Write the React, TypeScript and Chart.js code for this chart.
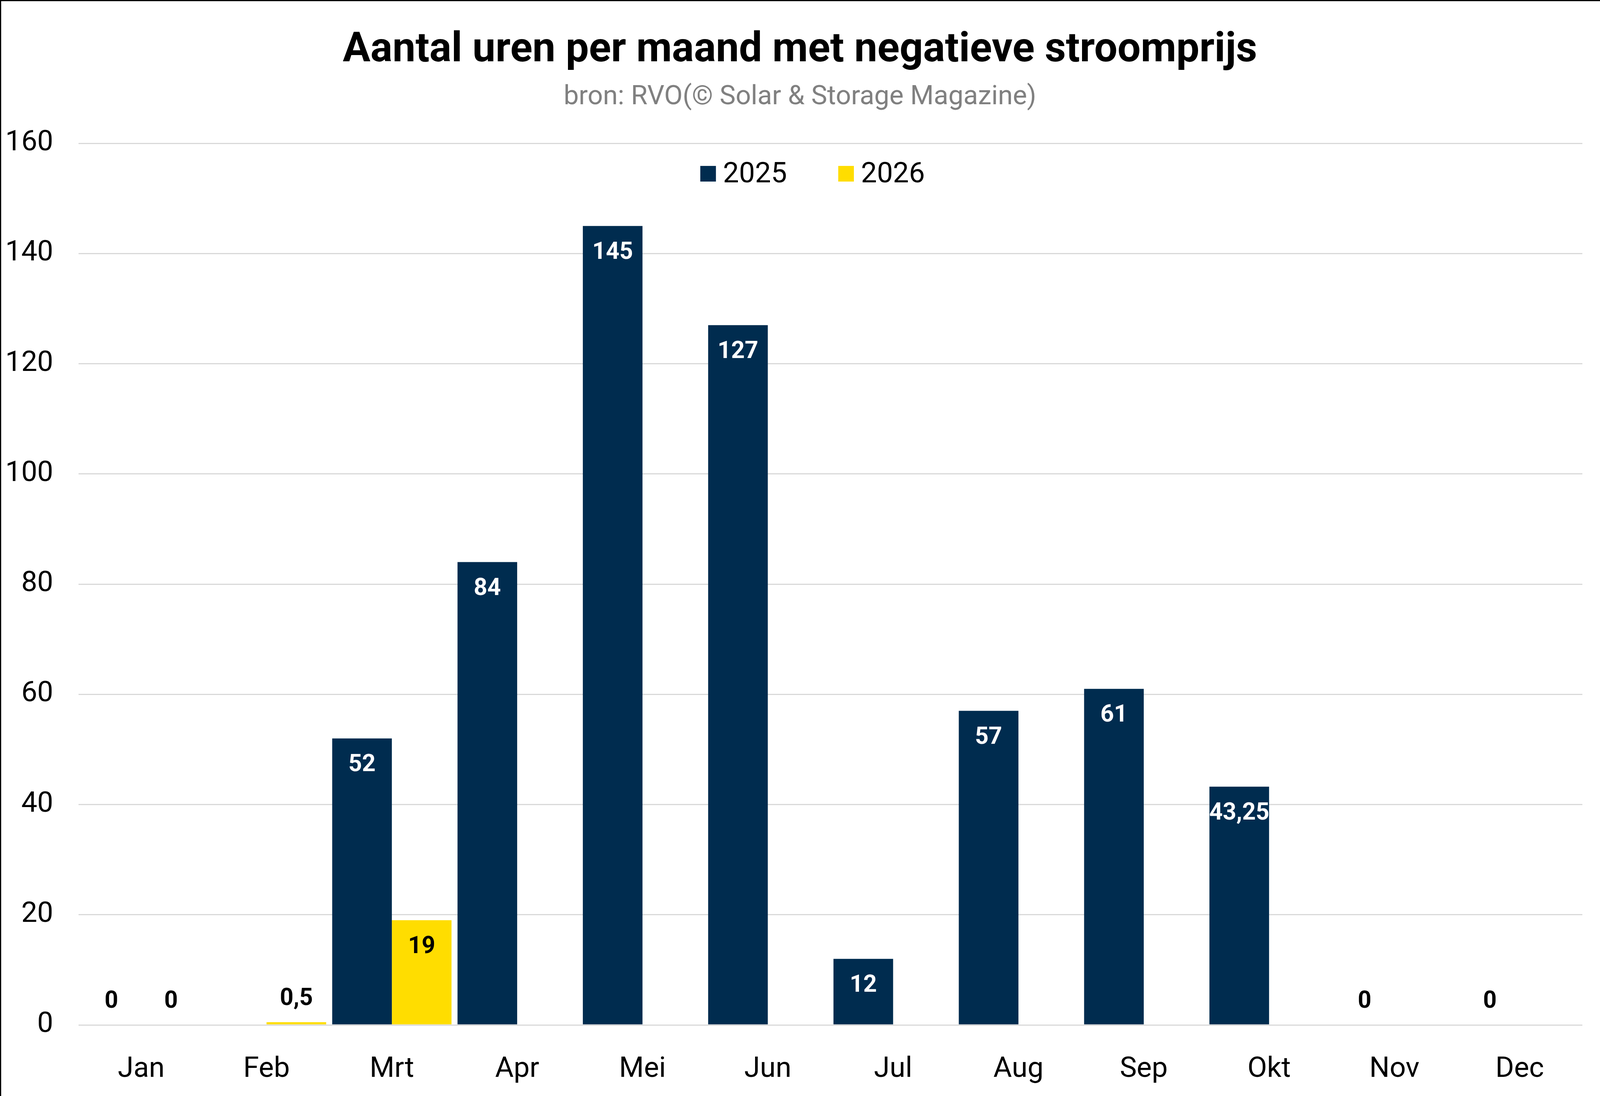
import React, { useEffect, useRef } from "react";
import { Chart, registerables } from "chart.js";

Chart.register(...registerables);

const months = ["Jan", "Feb", "Mrt", "Apr", "Mei", "Jun", "Jul", "Aug", "Sep", "Okt", "Nov", "Dec"];
const values2025: (number | null)[] = [0, null, 52, 84, 145, 127, 12, 57, 61, 43.25, 0, 0];
const values2026: (number | null)[] = [0, 0.5, 19, null, null, null, null, null, null, null, null, null];
const seriesNames = ["2025", "2026"];
const seriesColors = ["#002c4f", "#ffdd00"];
const labelColors = ["#ffffff", "#000000"];
const titleText = "Aantal uren per maand met negatieve stroomprijs";
const subtitleText = "bron: RVO(© Solar & Storage Magazine)";
const yMin = 0;
const yMax = 160;
const yStep = 20;

// reference design size
const RW = 4990;
const RH = 2807;
const FONT = "Roboto";

const fmt = (v: number) => String(v).replace(".", ",");

export default function App() {
  const ref = useRef<HTMLCanvasElement | null>(null);
  useEffect(() => {
    document.body.style.margin = "0";
    if (!ref.current) return;
    const vw = window.innerWidth;
    const vh = window.innerHeight;
    const sx = vw / RW;
    const sy = vh / RH;
    const f = Math.min(1, (sx + sy) / 2);
    const ft = Math.min(1, sx * 1.01); // title / subtitle font scale
    const fl = Math.min(1, sx * 1.085); // data label font scale (must fit in bars)

    const decorPlugin = {
      id: "decor",
      beforeDraw(chart: any) {
        const ctx = chart.ctx;
        ctx.save();
        ctx.fillStyle = "#ffffff";
        ctx.fillRect(0, 0, chart.width, chart.height);
        ctx.restore();
      },
      afterDraw(chart: any) {
        const ctx = chart.ctx;
        ctx.save();
        // frame lines
        ctx.fillStyle = "#000000";
        ctx.fillRect(0, 0, chart.width, 3);
        ctx.fillRect(0, 0, 3, chart.height);
        // title & subtitle
        ctx.textAlign = "center";
        ctx.textBaseline = "alphabetic";
        ctx.fillStyle = "#000000";
        ctx.font = `700 ${127 * ft}px ${FONT}`;
        ctx.fillText(titleText, 2495 * sx, 157 * sy);
        ctx.fillStyle = "#808080";
        ctx.font = `400 ${83 * ft}px ${FONT}`;
        ctx.fillText(subtitleText, 2495 * sx, 267 * sy);
        // legend
        const box = 44 * f;
        let x = 2184 * sx;
        ctx.textAlign = "left";
        ctx.font = `400 ${80 * f}px ${FONT}`;
        chart.data.datasets.forEach((ds: any) => {
          ctx.fillStyle = ds.backgroundColor;
          ctx.fillRect(x, 465 * sy - box, box, box);
          x += box + 22 * sx;
          ctx.fillStyle = "#000000";
          ctx.fillText(ds.label, x, 467 * sy);
          x += ctx.measureText(ds.label).width + 160 * sx;
        });
        ctx.restore();
      },
      afterDatasetsDraw(chart: any) {
        const ctx = chart.ctx;
        ctx.save();
        ctx.font = `700 ${68 * fl}px ${FONT}`;
        ctx.textAlign = "center";
        ctx.textBaseline = "middle";
        chart.data.datasets.forEach((ds: any, di: number) => {
          const meta = chart.getDatasetMeta(di);
          meta.data.forEach((el: any, i: number) => {
            const v = ds.data[i];
            if (v === null || v === undefined) return;
            if (v < 5) {
              ctx.fillStyle = "#000000";
              ctx.fillText(fmt(v), el.x, el.y - 59 * sy);
            } else {
              ctx.fillStyle = labelColors[di];
              ctx.fillText(fmt(v), el.x, el.y + 69 * sy);
            }
          });
        });
        ctx.restore();
      },
    };

    const chart = new Chart(ref.current, {
      type: "bar",
      data: {
        labels: months,
        datasets: [
          {
            label: seriesNames[0],
            data: values2025,
            backgroundColor: seriesColors[0],
            categoryPercentage: 0.952,
            barPercentage: 1.0,
          },
          {
            label: seriesNames[1],
            data: values2026,
            backgroundColor: seriesColors[1],
            categoryPercentage: 0.952,
            barPercentage: 1.0,
          },
        ],
      },
      options: {
        animation: false,
        responsive: true,
        maintainAspectRatio: false,
        layout: { padding: { left: 0, right: 55 * sx, top: 367 * sy, bottom: 0 } },
        plugins: {
          legend: { display: false },
          tooltip: { enabled: false },
          title: { display: false },
        },
        scales: {
          x: {
            grid: { display: false, drawTicks: false },
            border: { display: false },
            ticks: {
              color: "#000000",
              font: { family: FONT, size: 80 * f },
              padding: 71 * sy,
              maxRotation: 0,
            },
            afterFit: (s: any) => {
              s.height = 182 * sy;
            },
          },
          y: {
            min: yMin,
            max: yMax,
            grid: { color: "#d9d9d9", lineWidth: 3, drawTicks: false },
            border: { display: false },
            ticks: {
              stepSize: yStep,
              color: "#000000",
              font: { family: FONT, size: 80 * f },
              padding: 79 * sx,
            },
            afterFit: (s: any) => {
              s.width = 245 * sx;
            },
          },
        },
      },
      plugins: [decorPlugin],
    });
    return () => chart.destroy();
  }, []);
  return (
    <div style={{ position: "relative", width: "100vw", height: "100vh", overflow: "hidden", background: "#fff" }}>
      <canvas ref={ref} />
    </div>
  );
}
